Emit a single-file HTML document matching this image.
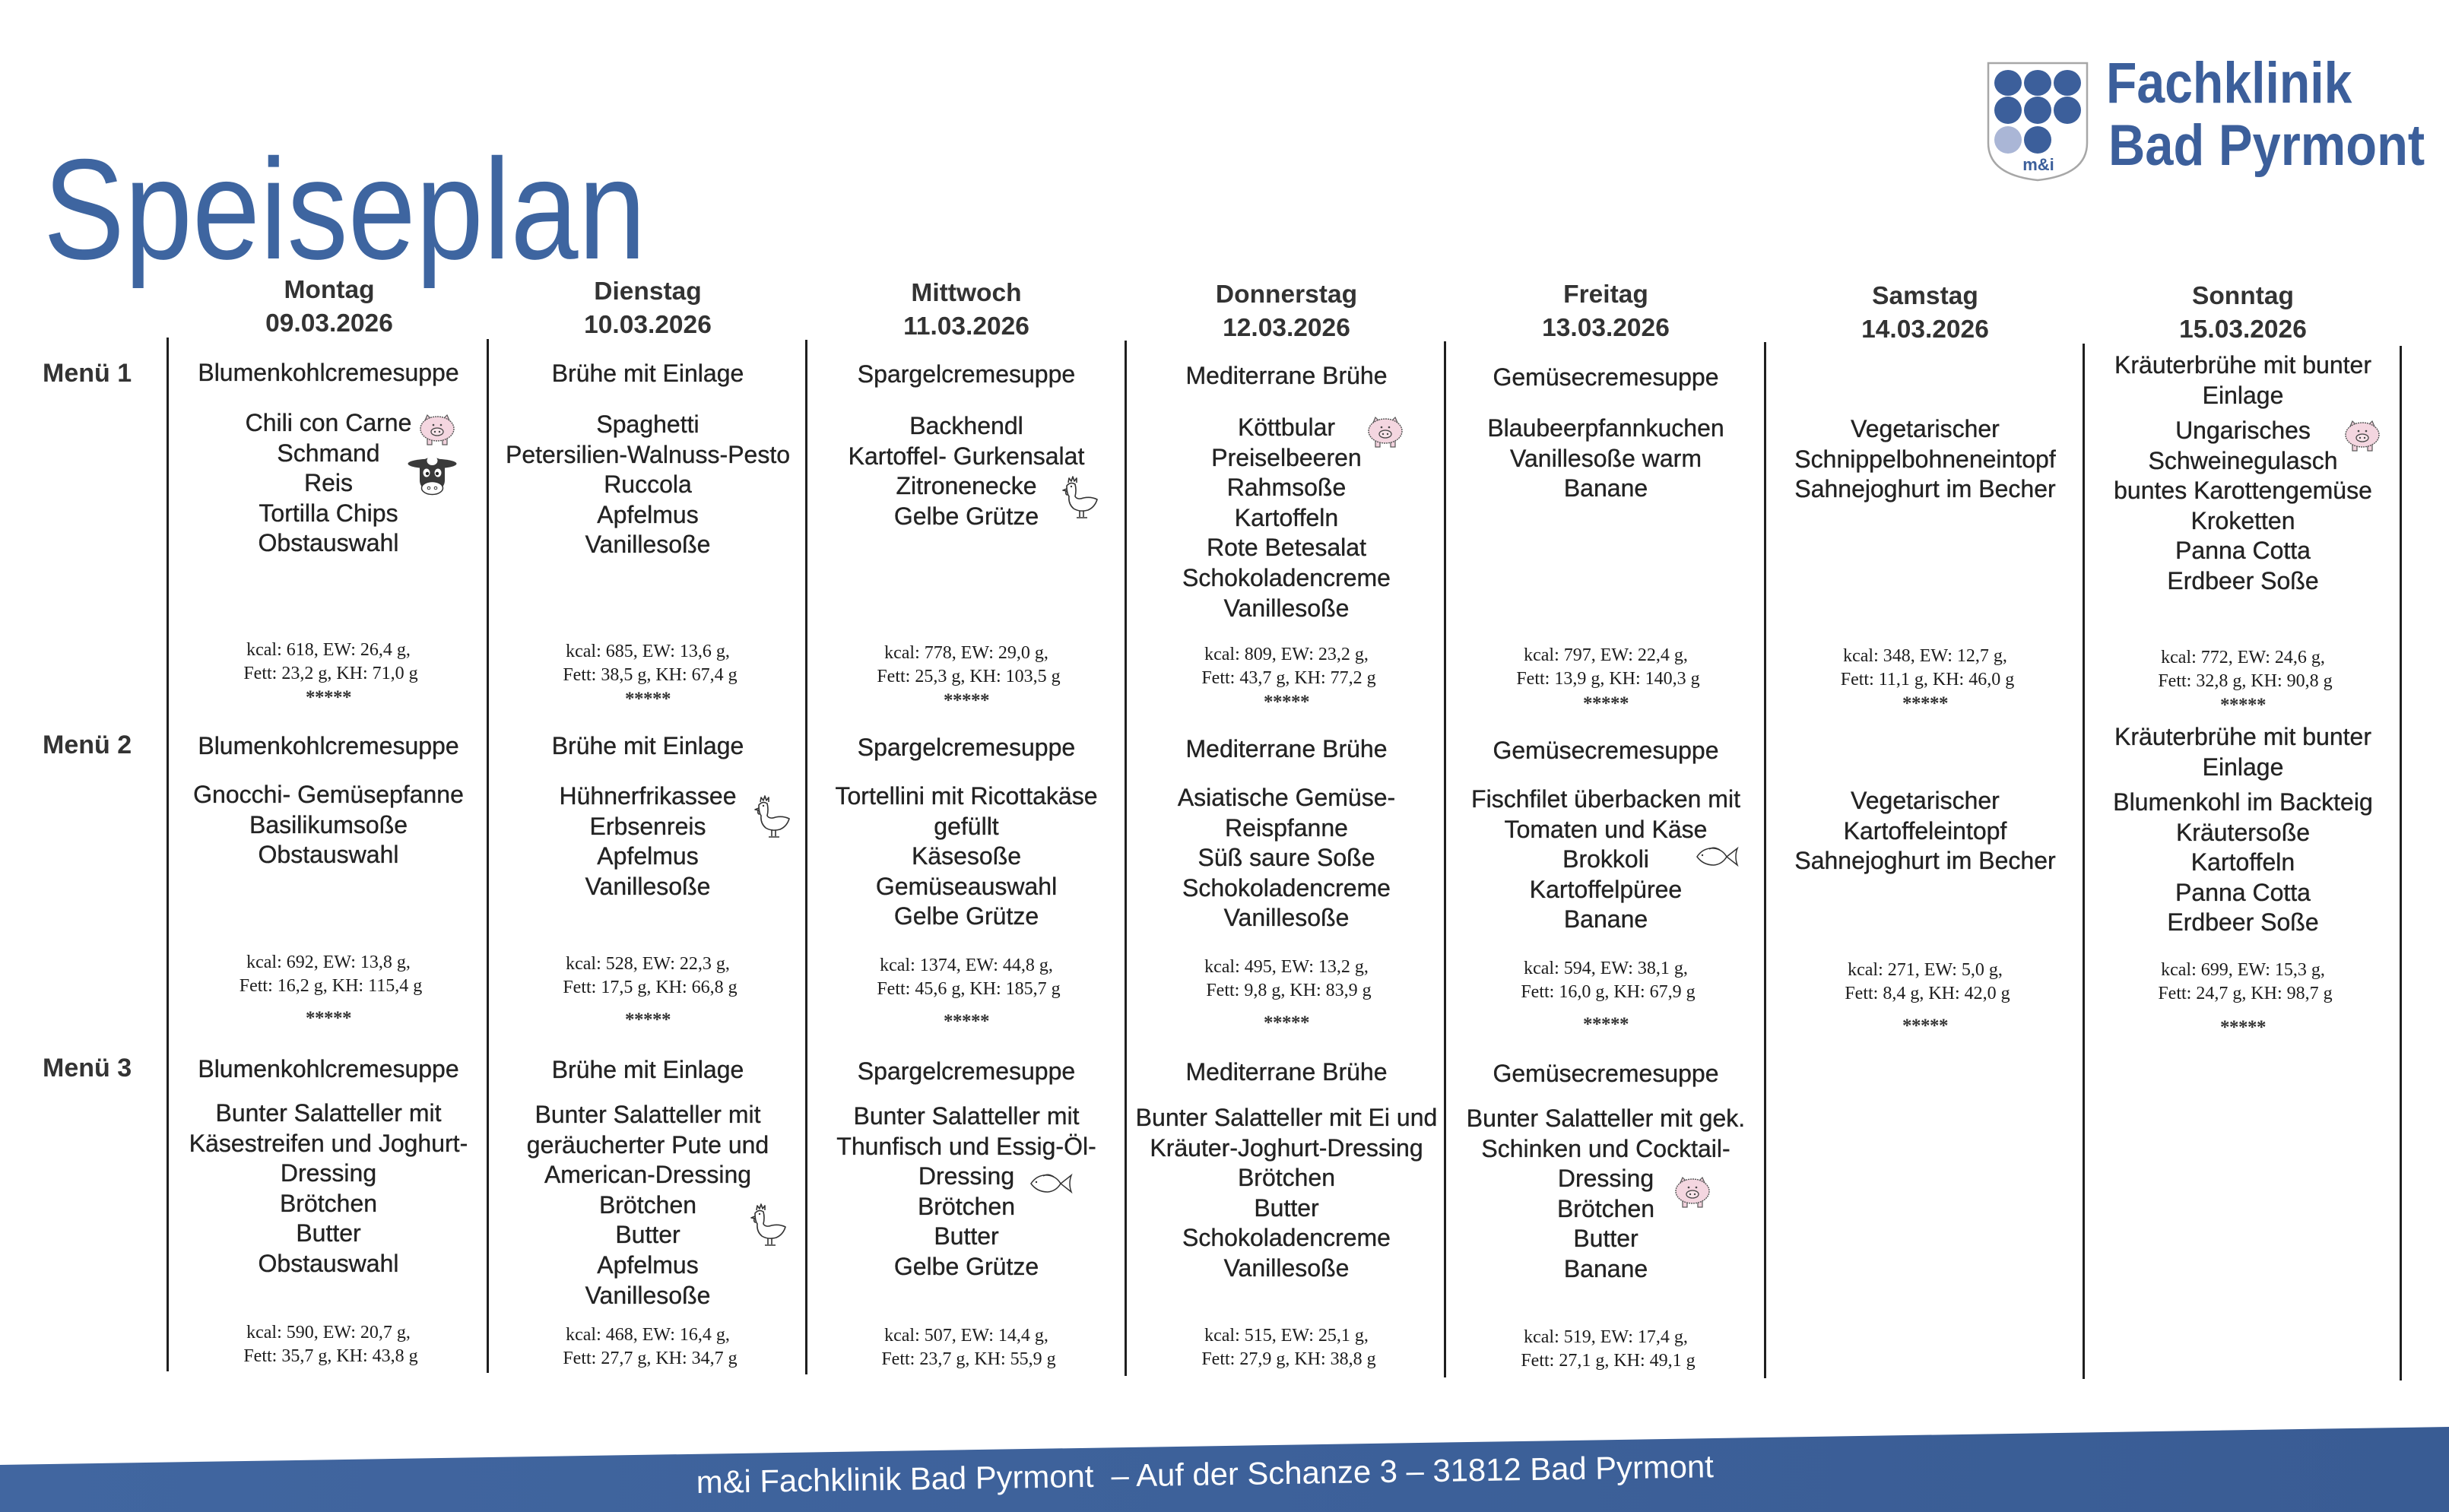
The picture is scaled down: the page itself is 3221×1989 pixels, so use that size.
<!DOCTYPE html>
<html lang="de">
<head>
<meta charset="utf-8">
<title>Speiseplan</title>
<style>
html,body{margin:0;padding:0;background:#fff;}
body{width:3221px;height:1989px;position:relative;overflow:hidden;font-family:"Liberation Sans",Arial,sans-serif;color:#2c2c2c;}
.t{position:absolute;width:460px;margin-left:-230px;text-align:center;white-space:nowrap;font-size:32px;line-height:39.6px;color:#232323;-webkit-text-stroke:0.35px #232323;}
.h{position:absolute;width:420px;margin-left:-210px;text-align:center;white-space:nowrap;font-weight:bold;font-size:33.5px;line-height:44px;color:#333;}
.n{position:absolute;width:400px;margin-left:-200px;text-align:center;white-space:nowrap;font-family:"Liberation Serif","Times New Roman",serif;font-size:24px;line-height:30.5px;color:#1c1c1c;}
.s{position:absolute;width:200px;margin-left:-100px;text-align:center;font-family:"Liberation Serif",serif;font-weight:bold;font-size:25px;line-height:22px;color:#333;letter-spacing:-0.5px;}
.m{position:absolute;left:56px;font-weight:bold;font-size:34px;line-height:40px;color:#333;white-space:nowrap;}
.v{position:absolute;width:3px;background:#1f1f1f;}
.ic{position:absolute;}
</style>
</head>
<body>

<svg width="0" height="0" style="position:absolute">
<defs>
<symbol id="pig" viewBox="0 0 50 42">
  <path d="M9 9 L12 2 L17 7 Z M41 9 L38 2 L33 7 Z" fill="#f2d2dd" stroke="#555" stroke-width="1.2"/>
  <rect x="12" y="32" width="6" height="9" fill="#f2d2dd" stroke="#555" stroke-width="1.2"/>
  <rect x="32" y="32" width="6" height="9" fill="#f2d2dd" stroke="#555" stroke-width="1.2"/>
  <ellipse cx="25" cy="20" rx="22" ry="16" fill="#f4d6e0" stroke="#555" stroke-width="1.4" stroke-dasharray="2 1"/>
  <ellipse cx="25" cy="24" rx="8" ry="5" fill="#f8e4ea" stroke="#444" stroke-width="1.3"/>
  <circle cx="22" cy="24" r="1.2" fill="#444"/><circle cx="28" cy="24" r="1.2" fill="#444"/>
  <circle cx="20" cy="15" r="1.3" fill="#444"/><circle cx="30" cy="15" r="1.3" fill="#444"/>
</symbol>
<symbol id="cow" viewBox="0 0 67 54">
  <ellipse cx="33.5" cy="12" rx="32" ry="6.5" fill="#3a3a3a"/>
  <rect x="17" y="4" width="33" height="44" rx="14" fill="#3a3a3a"/>
  <ellipse cx="33.5" cy="8" rx="7" ry="6" fill="#fff"/>
  <ellipse cx="26" cy="24" rx="4.5" ry="5.5" fill="#fff"/>
  <ellipse cx="41" cy="24" rx="4.5" ry="5.5" fill="#fff"/>
  <circle cx="27" cy="25" r="2.2" fill="#222"/><circle cx="40" cy="25" r="2.2" fill="#222"/>
  <ellipse cx="33.5" cy="44" rx="14" ry="8.5" fill="#fff" stroke="#333" stroke-width="1.5"/>
  <circle cx="29" cy="44" r="1.8" fill="none" stroke="#333"/><circle cx="38" cy="44" r="1.8" fill="none" stroke="#333"/>
</symbol>
<symbol id="hen" viewBox="0 0 50 58">
  <g fill="none" stroke="#333" stroke-width="1.6" stroke-linejoin="round">
  <path d="M10 10 L11 4 L14 8 L16 2 L18 8 L21 4 L21 10"/>
  <path d="M8 18 L3 20 L8 21"/>
  <path d="M8 14 Q13 8 19 12 Q21 20 19 28 Q22 33 30 30 Q40 28 48 32 Q45 42 36 46 Q25 49 17 44 Q10 38 11 28 Q8 24 8 14 Z"/>
  <path d="M7 21 Q6 26 9 26"/>
  <path d="M25 47 L25 55 M30 47 L30 55 M21 56 L35 56"/>
  </g>
  <circle cx="14" cy="15" r="1.2" fill="#333"/>
</symbol>
<symbol id="fish" viewBox="0 0 57 27">
  <g fill="none" stroke="#333" stroke-width="1.5">
  <path d="M2 14 Q10 2 24 3 Q35 4 41 14 Q35 24 24 25 Q10 25 2 14 Z"/>
  <path d="M41 14 L55 3 Q51 14 55 25 Z"/>
  <path d="M18 4 Q24 0 32 5"/>
  </g>
  <circle cx="9" cy="12" r="1.2" fill="#333"/>
</symbol>
</defs>
</svg>

<!-- Title -->
<div style="position:absolute;left:57px;top:181px;font-size:188px;line-height:1;color:#3e65a0;transform:scaleX(0.852);transform-origin:0 0;white-space:nowrap;">Speiseplan</div>

<!-- Logo -->
<svg class="ic" style="left:2610px;top:78px" width="145" height="165" viewBox="0 0 145 165">
  <path d="M5 5 H135 V110 Q135 152 70 159 Q5 152 5 110 Z" fill="#fff" stroke="#a7a7a7" stroke-width="2.5"/>
  <g fill="#3c5f9b">
    <ellipse cx="31" cy="31" rx="18" ry="17"/><ellipse cx="70" cy="31" rx="18" ry="17"/><ellipse cx="109" cy="31" rx="18" ry="17"/>
    <ellipse cx="31" cy="67" rx="18" ry="18"/><ellipse cx="70" cy="67" rx="18" ry="18"/><ellipse cx="109" cy="67" rx="18" ry="18"/>
    <ellipse cx="70" cy="106" rx="18" ry="18"/>
  </g>
  <ellipse cx="31" cy="106" rx="18" ry="18" fill="#aab6d6"/>
  <text x="71" y="146" text-anchor="middle" font-family="Liberation Sans, sans-serif" font-weight="bold" font-size="22" fill="#3c5f9b">m&amp;i</text>
</svg>
<div style="position:absolute;left:2770px;top:72px;font-weight:bold;font-size:76px;line-height:76px;color:#3c5f9b;transform:scaleX(0.87);transform-origin:0 0;white-space:nowrap;">Fachklinik</div>
<div style="position:absolute;left:2773px;top:154px;font-weight:bold;font-size:76px;line-height:76px;color:#3c5f9b;transform:scaleX(0.88);transform-origin:0 0;white-space:nowrap;">Bad Pyrmont</div>

<!-- Column lines -->
<div class="v" style="left:219px;top:444px;height:1360px"></div>
<div class="v" style="left:640px;top:446px;height:1360px"></div>
<div class="v" style="left:1059px;top:447px;height:1361px"></div>
<div class="v" style="left:1479px;top:448px;height:1362px"></div>
<div class="v" style="left:1899px;top:449px;height:1363px"></div>
<div class="v" style="left:2320px;top:450px;height:1363px"></div>
<div class="v" style="left:2739px;top:452px;height:1362px"></div>
<div class="v" style="left:3156px;top:455px;height:1361px"></div>

<!-- Day headers -->
<div class="h" style="left:433px;top:360px">Montag<br>09.03.2026</div>
<div class="h" style="left:852px;top:362px">Dienstag<br>10.03.2026</div>
<div class="h" style="left:1271px;top:364px">Mittwoch<br>11.03.2026</div>
<div class="h" style="left:1692px;top:366px">Donnerstag<br>12.03.2026</div>
<div class="h" style="left:2112px;top:366px">Freitag<br>13.03.2026</div>
<div class="h" style="left:2532px;top:368px">Samstag<br>14.03.2026</div>
<div class="h" style="left:2950px;top:368px">Sonntag<br>15.03.2026</div>

<!-- Menu labels -->
<div class="m" style="top:471px">Menü 1</div>
<div class="m" style="top:960px">Menü 2</div>
<div class="m" style="top:1385px">Menü 3</div>

<!-- ============ MENÜ 1 ============ -->
<div class="t" style="left:432px;top:471px">Blumenkohlcremesuppe</div>
<div class="t" style="left:432px;top:537px">Chili con Carne<br>Schmand<br>Reis<br>Tortilla Chips<br>Obstauswahl</div>
<div class="n" style="left:432px;top:840px">kcal: 618, EW: 26,4 g,<br>&nbsp;Fett: 23,2 g, KH: 71,0 g</div>
<div class="s" style="left:432px;top:907px">*****</div>

<div class="t" style="left:852px;top:472px">Brühe mit Einlage</div>
<div class="t" style="left:852px;top:539px">Spaghetti<br>Petersilien-Walnuss-Pesto<br>Ruccola<br>Apfelmus<br>Vanillesoße</div>
<div class="n" style="left:852px;top:842px">kcal: 685, EW: 13,6 g,<br>&nbsp;Fett: 38,5 g, KH: 67,4 g</div>
<div class="s" style="left:852px;top:909px">*****</div>

<div class="t" style="left:1271px;top:473px">Spargelcremesuppe</div>
<div class="t" style="left:1271px;top:541px">Backhendl<br>Kartoffel- Gurkensalat<br>Zitronenecke<br>Gelbe Grütze</div>
<div class="n" style="left:1271px;top:844px">kcal: 778, EW: 29,0 g,<br>&nbsp;Fett: 25,3 g, KH: 103,5 g</div>
<div class="s" style="left:1271px;top:911px">*****</div>

<div class="t" style="left:1692px;top:475px">Mediterrane Brühe</div>
<div class="t" style="left:1692px;top:543px">Köttbular<br>Preiselbeeren<br>Rahmsoße<br>Kartoffeln<br>Rote Betesalat<br>Schokoladencreme<br>Vanillesoße</div>
<div class="n" style="left:1692px;top:846px">kcal: 809, EW: 23,2 g,<br>&nbsp;Fett: 43,7 g, KH: 77,2 g</div>
<div class="s" style="left:1692px;top:913px">*****</div>

<div class="t" style="left:2112px;top:477px">Gemüsecremesuppe</div>
<div class="t" style="left:2112px;top:544px">Blaubeerpfannkuchen<br>Vanillesoße warm<br>Banane</div>
<div class="n" style="left:2112px;top:847px">kcal: 797, EW: 22,4 g,<br>&nbsp;Fett: 13,9 g, KH: 140,3 g</div>
<div class="s" style="left:2112px;top:915px">*****</div>

<div class="t" style="left:2532px;top:545px">Vegetarischer<br>Schnippelbohneneintopf<br>Sahnejoghurt im Becher</div>
<div class="n" style="left:2532px;top:848px">kcal: 348, EW: 12,7 g,<br>&nbsp;Fett: 11,1 g, KH: 46,0 g</div>
<div class="s" style="left:2532px;top:915px">*****</div>

<div class="t" style="left:2950px;top:461px">Kräuterbrühe mit bunter<br>Einlage</div>
<div class="t" style="left:2950px;top:547px">Ungarisches<br>Schweinegulasch<br>buntes Karottengemüse<br>Kroketten<br>Panna Cotta<br>Erdbeer Soße</div>
<div class="n" style="left:2950px;top:850px">kcal: 772, EW: 24,6 g,<br>&nbsp;Fett: 32,8 g, KH: 90,8 g</div>
<div class="s" style="left:2950px;top:917px">*****</div>

<!-- ============ MENÜ 2 ============ -->
<div class="t" style="left:432px;top:962px">Blumenkohlcremesuppe</div>
<div class="t" style="left:432px;top:1026px">Gnocchi- Gemüsepfanne<br>Basilikumsoße<br>Obstauswahl</div>
<div class="n" style="left:432px;top:1251px">kcal: 692, EW: 13,8 g,<br>&nbsp;Fett: 16,2 g, KH: 115,4 g</div>
<div class="s" style="left:432px;top:1329px">*****</div>

<div class="t" style="left:852px;top:962px">Brühe mit Einlage</div>
<div class="t" style="left:852px;top:1028px">Hühnerfrikassee<br>Erbsenreis<br>Apfelmus<br>Vanillesoße</div>
<div class="n" style="left:852px;top:1253px">kcal: 528, EW: 22,3 g,<br>&nbsp;Fett: 17,5 g, KH: 66,8 g</div>
<div class="s" style="left:852px;top:1331px">*****</div>

<div class="t" style="left:1271px;top:964px">Spargelcremesuppe</div>
<div class="t" style="left:1271px;top:1028px">Tortellini mit Ricottakäse<br>gefüllt<br>Käsesoße<br>Gemüseauswahl<br>Gelbe Grütze</div>
<div class="n" style="left:1271px;top:1255px">kcal: 1374, EW: 44,8 g,<br>&nbsp;Fett: 45,6 g, KH: 185,7 g</div>
<div class="s" style="left:1271px;top:1333px">*****</div>

<div class="t" style="left:1692px;top:966px">Mediterrane Brühe</div>
<div class="t" style="left:1692px;top:1030px">Asiatische Gemüse-<br>Reispfanne<br>Süß saure Soße<br>Schokoladencreme<br>Vanillesoße</div>
<div class="n" style="left:1692px;top:1257px">kcal: 495, EW: 13,2 g,<br>&nbsp;Fett: 9,8 g, KH: 83,9 g</div>
<div class="s" style="left:1692px;top:1335px">*****</div>

<div class="t" style="left:2112px;top:968px">Gemüsecremesuppe</div>
<div class="t" style="left:2112px;top:1032px">Fischfilet überbacken mit<br>Tomaten und Käse<br>Brokkoli<br>Kartoffelpüree<br>Banane</div>
<div class="n" style="left:2112px;top:1259px">kcal: 594, EW: 38,1 g,<br>&nbsp;Fett: 16,0 g, KH: 67,9 g</div>
<div class="s" style="left:2112px;top:1337px">*****</div>

<div class="t" style="left:2532px;top:1034px">Vegetarischer<br>Kartoffeleintopf<br>Sahnejoghurt im Becher</div>
<div class="n" style="left:2532px;top:1261px">kcal: 271, EW: 5,0 g,<br>&nbsp;Fett: 8,4 g, KH: 42,0 g</div>
<div class="s" style="left:2532px;top:1339px">*****</div>

<div class="t" style="left:2950px;top:950px">Kräuterbrühe mit bunter<br>Einlage</div>
<div class="t" style="left:2950px;top:1036px">Blumenkohl im Backteig<br>Kräutersoße<br>Kartoffeln<br>Panna Cotta<br>Erdbeer Soße</div>
<div class="n" style="left:2950px;top:1261px">kcal: 699, EW: 15,3 g,<br>&nbsp;Fett: 24,7 g, KH: 98,7 g</div>
<div class="s" style="left:2950px;top:1341px">*****</div>

<!-- ============ MENÜ 3 ============ -->
<div class="t" style="left:432px;top:1387px">Blumenkohlcremesuppe</div>
<div class="t" style="left:432px;top:1445px">Bunter Salatteller mit<br>Käsestreifen und Joghurt-<br>Dressing<br>Brötchen<br>Butter<br>Obstauswahl</div>
<div class="n" style="left:432px;top:1738px">kcal: 590, EW: 20,7 g,<br>&nbsp;Fett: 35,7 g, KH: 43,8 g</div>

<div class="t" style="left:852px;top:1388px">Brühe mit Einlage</div>
<div class="t" style="left:852px;top:1447px">Bunter Salatteller mit<br>geräucherter Pute und<br>American-Dressing<br>Brötchen<br>Butter<br>Apfelmus<br>Vanillesoße</div>
<div class="n" style="left:852px;top:1741px">kcal: 468, EW: 16,4 g,<br>&nbsp;Fett: 27,7 g, KH: 34,7 g</div>

<div class="t" style="left:1271px;top:1390px">Spargelcremesuppe</div>
<div class="t" style="left:1271px;top:1449px">Bunter Salatteller mit<br>Thunfisch und Essig-Öl-<br>Dressing<br>Brötchen<br>Butter<br>Gelbe Grütze</div>
<div class="n" style="left:1271px;top:1742px">kcal: 507, EW: 14,4 g,<br>&nbsp;Fett: 23,7 g, KH: 55,9 g</div>

<div class="t" style="left:1692px;top:1391px">Mediterrane Brühe</div>
<div class="t" style="left:1692px;top:1451px">Bunter Salatteller mit Ei und<br>Kräuter-Joghurt-Dressing<br>Brötchen<br>Butter<br>Schokoladencreme<br>Vanillesoße</div>
<div class="n" style="left:1692px;top:1742px">kcal: 515, EW: 25,1 g,<br>&nbsp;Fett: 27,9 g, KH: 38,8 g</div>

<div class="t" style="left:2112px;top:1393px">Gemüsecremesuppe</div>
<div class="t" style="left:2112px;top:1452px">Bunter Salatteller mit gek.<br>Schinken und Cocktail-<br>Dressing<br>Brötchen<br>Butter<br>Banane</div>
<div class="n" style="left:2112px;top:1744px">kcal: 519, EW: 17,4 g,<br>&nbsp;Fett: 27,1 g, KH: 49,1 g</div>

<!-- Icons -->
<svg class="ic" style="left:550px;top:544px" width="50" height="42"><use href="#pig"/></svg>
<svg class="ic" style="left:535px;top:598px" width="67" height="54"><use href="#cow"/></svg>
<svg class="ic" style="left:1395px;top:625px" width="50" height="58"><use href="#hen"/></svg>
<svg class="ic" style="left:1797px;top:547px" width="50" height="42"><use href="#pig"/></svg>
<svg class="ic" style="left:3082px;top:552px" width="50" height="42"><use href="#pig"/></svg>
<svg class="ic" style="left:990px;top:1045px" width="50" height="58"><use href="#hen"/></svg>
<svg class="ic" style="left:2230px;top:1113px" width="57" height="27"><use href="#fish"/></svg>
<svg class="ic" style="left:985px;top:1582px" width="50" height="58"><use href="#hen"/></svg>
<svg class="ic" style="left:1354px;top:1543px" width="57" height="27"><use href="#fish"/></svg>
<svg class="ic" style="left:2201px;top:1547px" width="50" height="42"><use href="#pig"/></svg>

<!-- Footer band -->
<svg class="ic" style="left:0;top:1860px" width="3221" height="129" viewBox="0 1860 3221 129">
  <defs>
    <linearGradient id="fg" x1="0" x2="1" y1="0" y2="0">
      <stop offset="0" stop-color="#4166a0"/>
      <stop offset="1" stop-color="#395c94"/>
    </linearGradient>
  </defs>
  <polygon points="0,1927 3221,1877 3221,1989 0,1989" fill="url(#fg)"/>
</svg>
<div style="position:absolute;left:916px;top:1929px;font-size:41.8px;line-height:42px;color:#fff;white-space:nowrap;transform:rotate(-0.89deg);transform-origin:0 35px;">m&amp;i Fachklinik Bad Pyrmont &nbsp;– Auf der Schanze 3 – 31812 Bad Pyrmont</div>

</body>
</html>
